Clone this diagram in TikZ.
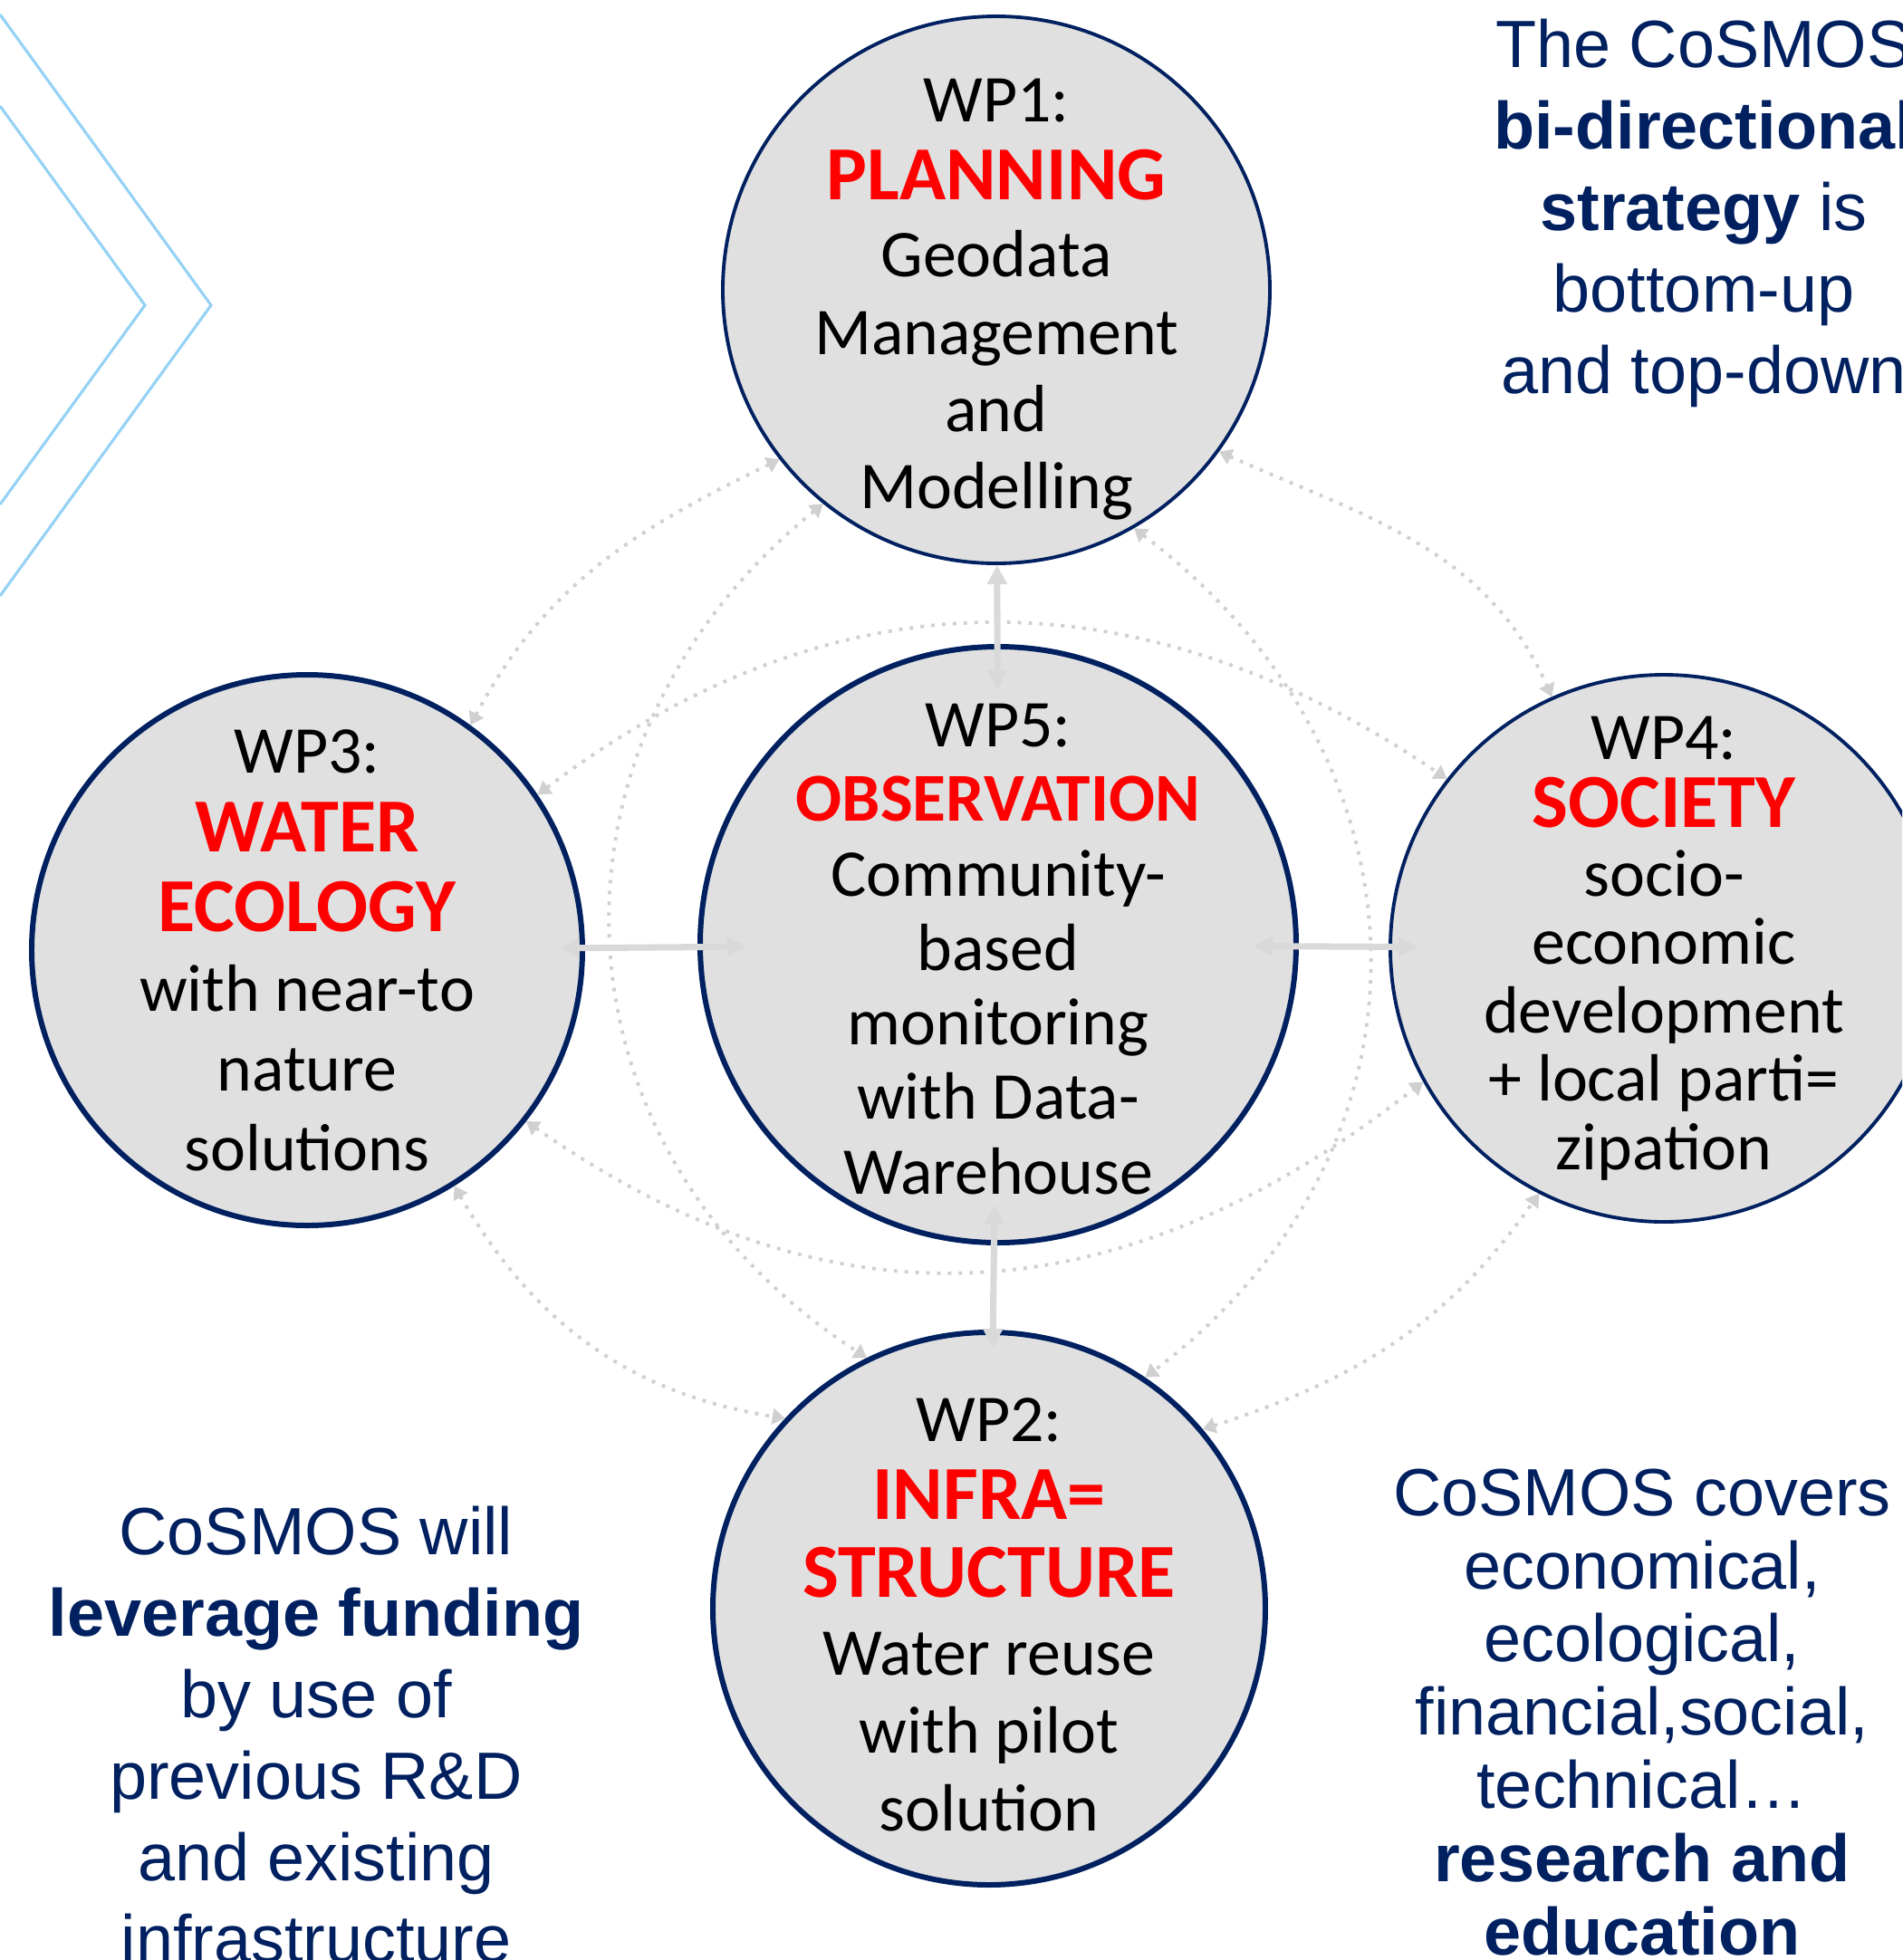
\documentclass[tikz,border=0pt]{standalone}
\usepackage{fontspec}
\setmainfont{Carlito}
\newfontfamily\arialfont{Liberation Sans}
\usetikzlibrary{arrows.meta}
\definecolor{navy}{RGB}{0,32,96}
\definecolor{wpfill}{RGB}{224,224,224}
\definecolor{spokegray}{RGB}{217,217,217}
\definecolor{dotgray}{RGB}{208,208,208}
\definecolor{chevblue}{RGB}{150,210,245}
\newcommand{\wptitle}[2][24]{\textcolor{red}{\fontsize{#1}{24}\selectfont\bfseries #2}}

\begin{document}
\begin{tikzpicture}[
    wp/.style={circle, draw=navy, fill=wpfill, inner sep=0pt},
    wpthick/.style={wp, line width=1.7pt},
    wpthin/.style={wp, line width=1.1pt},
    wptext/.style={align=center, inner sep=0pt, font=\fontsize{21}{24.3}\selectfont},
    bluetext/.style={align=center, inner sep=0pt, text=navy, font=\arialfont\fontsize{21}{25.6}\selectfont},
    spoke/.style={draw=spokegray, line width=2pt, {Triangle[width=6pt,length=6pt]}-{Triangle[width=6pt,length=6pt]}},
    cyclearc/.style={draw=dotgray, line width=1.1pt, dash pattern=on 1.1pt off 2.3pt, {Triangle[width=5pt,length=4pt]}-{Triangle[width=5pt,length=4pt]}},
    chevron/.style={draw=chevblue, line width=0.9pt}
]
    \useasboundingbox (0,0) rectangle (21,-21.64);
    \clip (0,0) rectangle (21,-21.64);

    % Chevrons top left
    \draw[chevron] (0,-0.16) -- (2.33,-3.37) -- (0,-6.58);
    \draw[chevron] (0,-1.17) -- (1.60,-3.37) -- (0,-5.57);

    % Work packages
    \node[wpthin, minimum size=6.04cm] (wp1) at (11.00,-3.20) {};
    \node[wpthick, minimum size=6.58cm] (wp5) at (11.02,-10.43) {};
    \node[wpthick, minimum size=6.08cm] (wp3) at (3.39,-10.49) {};
    \node[wpthin, minimum size=6.04cm] (wp4) at (18.37,-10.47) {};
    \node[wpthick, minimum size=6.10cm] (wp2) at (10.92,-17.76) {};

    % Outer ring
    \draw[cyclearc] (wp1.218) to[out=206, in=62] (wp3.54);
    \draw[cyclearc] (wp1.324) to[out=336, in=114] (wp4.114);
    \draw[cyclearc] (wp3.302) to[out=300, in=171] (wp2.137);
    \draw[cyclearc] (wp2.40) to[out=18, in=235] (wp4.243);

    % Inner ring
    \draw[cyclearc] (wp1.231) to[out=219, in=147, looseness=1.15] (wp2.116);
    \draw[cyclearc] (wp1.300) to[out=323, in=37, looseness=1.15] (wp2.56);
    \draw[cyclearc] (wp3.34) to[out=37, in=146, looseness=1.05] (wp4.142);
    \draw[cyclearc] (wp3.322) to[out=325, in=218, looseness=1.08] (wp4.209);

    % Spokes
    \draw[spoke, shorten <=-0.5cm] (wp5) -- (wp1);
    \draw[spoke, shorten <=-0.45cm, shorten >=-0.2cm] (wp5) -- (wp2);
    \draw[spoke, shorten <=-0.54cm, shorten >=-0.28cm] (wp5) -- (wp3);
    \draw[spoke, shorten <=-0.5cm, shorten >=-0.32cm] (wp5) -- (wp4);

    % Texts in the circles
    \node[wptext, yshift=-0.11cm] (wp1t) at (wp1) {WP1:\\\wptitle{PLANNING}\\Geodata\\Management\\and\\Modelling};
    \node[wptext, yshift=-0.05cm, font=\fontsize{21}{23.4}\selectfont] (wp5t) at (wp5) {WP5:\\\wptitle[21.5]{OBSERVATION}\\Community-\\based\\monitoring\\with Data-\\Warehouse};
    \node[wptext, font=\fontsize{21}{25}\selectfont] (wp3t) at (wp3) {WP3:\\\wptitle{WATER}\\\wptitle{ECOLOGY}\\with near-to\\nature\\solutions};
    \node[wptext, font=\fontsize{21}{21.5}\selectfont] (wp4t) at (wp4) {WP4:\\\wptitle{SOCIETY}\\socio-\\economic\\development\\+ local parti=\\zipation};
    \node[wptext, yshift=-0.07cm, font=\fontsize{21}{24.5}\selectfont] (wp2t) at (wp2) {WP2:\\\wptitle{INFRA=}\\\wptitle{STRUCTURE}\\Water reuse\\with pilot\\solution};

    % Side notes
    \node[bluetext, anchor=north] (strategy) at (18.81,-0.20) {The CoSMOS\\\textbf{bi-directional}\\\textbf{strategy} is\\bottom-up\\and top-down};
    \node[bluetext, anchor=north] (funding) at (3.49,-16.62) {CoSMOS will\\\textbf{leverage funding}\\by use of\\previous R\&D\\and existing\\infrastructure};
    \node[bluetext, anchor=north, font=\arialfont\fontsize{21}{23}\selectfont] (covers) at (18.13,-16.21) {CoSMOS covers\\economical,\\ecological,\\financial,social,\\technical…\\\textbf{research and}\\\textbf{education}};
\end{tikzpicture}
\end{document}
